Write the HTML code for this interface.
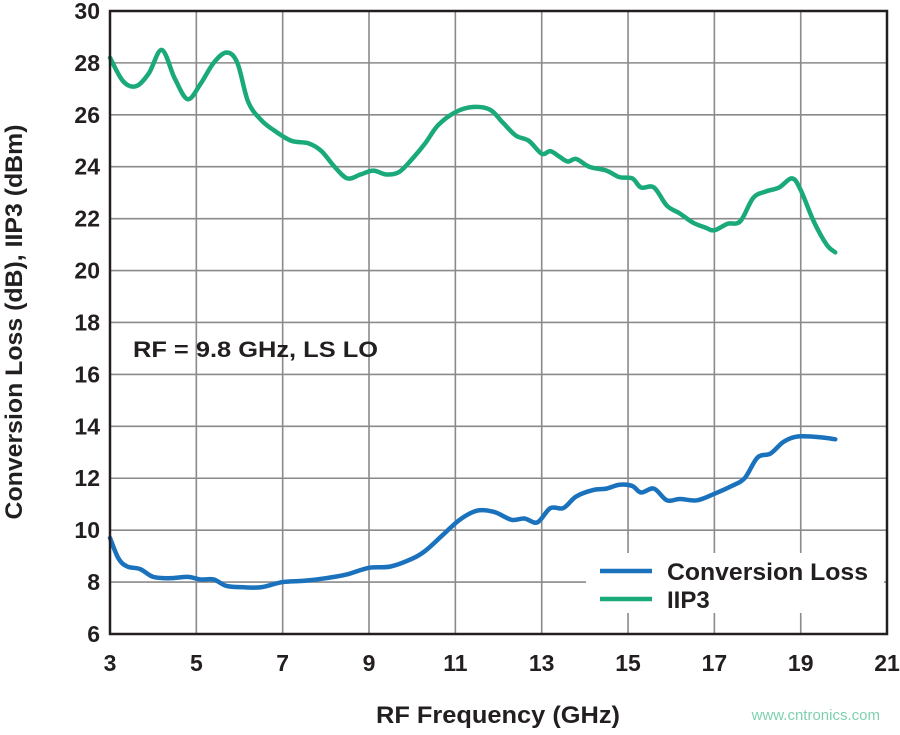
<!DOCTYPE html>
<html><head><meta charset="utf-8"><style>
html,body{margin:0;padding:0;background:#fff;}
svg text{font-family:"Liberation Sans",Arial,sans-serif;font-weight:bold;fill:#231f20;}
</style></head><body>
<svg id="s" width="900" height="730" viewBox="0 0 900 730" xmlns="http://www.w3.org/2000/svg">
<g id="grid" stroke="#8a8a8a" stroke-width="1.6"></g>
<rect x="586" y="553" width="298" height="60" fill="#fff"/>
<path id="g" fill="none" stroke="#1aa97a" stroke-width="4.5" stroke-linejoin="round" stroke-linecap="round"/>
<path id="b" fill="none" stroke="#1a72bd" stroke-width="4.5" stroke-linejoin="round" stroke-linecap="round"/>
<rect x="110" y="11" width="777" height="623" fill="none" stroke="#231f20" stroke-width="2.5"/>
<g id="lab" font-size="23"></g>
<text x="133" y="357" font-size="22" textLength="245" lengthAdjust="spacingAndGlyphs">RF = 9.8 GHz, LS LO</text>
<line x1="600" y1="571" x2="652" y2="571" stroke="#1a72bd" stroke-width="4.5"/>
<line x1="600" y1="599" x2="652" y2="599" stroke="#1aa97a" stroke-width="4.5"/>
<text x="667" y="580" font-size="24" textLength="201" lengthAdjust="spacingAndGlyphs">Conversion Loss</text>
<text x="667" y="608" font-size="24">IIP3</text>
<text x="376" y="723" font-size="24" textLength="244" lengthAdjust="spacingAndGlyphs">RF Frequency (GHz)</text>
<text transform="translate(22,322) rotate(-90)" font-size="24" text-anchor="middle" textLength="395" lengthAdjust="spacingAndGlyphs">Conversion Loss (dB), IIP3 (dBm)</text>
<text x="880" y="720" font-size="15" text-anchor="end" style="font-weight:normal;fill:#7fd0b0">www.cntronics.com</text>
</svg>
<script>
function X(f){return 110+(f-3)*43.17}
function Y(v){return 634-(v-6)*25.96}
var grid=document.getElementById('grid'),lab=document.getElementById('lab'),NS='http://www.w3.org/2000/svg';
function el(p,t,a,txt){var e=document.createElementNS(NS,t);for(var k in a)e.setAttribute(k,a[k]);if(txt)e.textContent=txt;p.appendChild(e);}
for(var f=3;f<=21;f+=2){el(grid,'line',{x1:X(f),x2:X(f),y1:11,y2:634});el(lab,'text',{x:X(f),y:671,'text-anchor':'middle'},String(f));}
for(var v=6;v<=30;v+=2){el(grid,'line',{x1:110,x2:887,y1:Y(v),y2:Y(v)});el(lab,'text',{x:100,y:Y(v)+8,'text-anchor':'end'},String(v));}
var G=[[3,28.2],[3.3,27.3],[3.6,27.1],[3.9,27.6],[4.2,28.5],[4.5,27.4],[4.8,26.6],[5.1,27.2],[5.4,28],[5.7,28.4],[5.95,28],[6.2,26.5],[6.5,25.8],[6.8,25.4],[7.2,25],[7.6,24.9],[7.9,24.6],[8.2,24],[8.5,23.55],[8.8,23.7],[9.1,23.85],[9.4,23.7],[9.7,23.8],[10,24.3],[10.3,24.9],[10.6,25.6],[11,26.1],[11.4,26.3],[11.8,26.2],[12.1,25.7],[12.4,25.2],[12.7,25.0],[13,24.5],[13.2,24.6],[13.4,24.4],[13.6,24.2],[13.8,24.3],[14.1,24.0],[14.5,23.85],[14.8,23.6],[15.1,23.55],[15.3,23.2],[15.6,23.2],[15.9,22.5],[16.2,22.2],[16.5,21.85],[16.8,21.65],[17.0,21.55],[17.3,21.8],[17.6,21.9],[17.9,22.8],[18.2,23.05],[18.5,23.2],[18.8,23.55],[19,23.1],[19.3,21.9],[19.6,21.0],[19.8,20.7]];
var B=[[3,9.7],[3.2,8.9],[3.4,8.6],[3.7,8.5],[4,8.2],[4.4,8.15],[4.8,8.2],[5.1,8.1],[5.4,8.1],[5.7,7.85],[6.1,7.8],[6.5,7.8],[7,8.0],[7.5,8.05],[8,8.15],[8.5,8.3],[9,8.55],[9.5,8.6],[10,8.9],[10.3,9.2],[10.7,9.8],[11.1,10.4],[11.5,10.75],[11.9,10.7],[12.3,10.4],[12.6,10.45],[12.9,10.3],[13.2,10.85],[13.5,10.85],[13.8,11.3],[14.2,11.55],[14.5,11.6],[14.8,11.75],[15.1,11.7],[15.3,11.45],[15.6,11.6],[15.9,11.15],[16.2,11.2],[16.6,11.15],[17,11.4],[17.4,11.7],[17.7,12],[18,12.8],[18.3,12.95],[18.6,13.4],[18.9,13.6],[19.3,13.6],[19.6,13.55],[19.8,13.5]];
function path(d){var p=d.map(function(a){return [X(a[0]),Y(a[1])]});var s='M'+p[0][0]+','+p[0][1];
for(var i=0;i<p.length-1;i++){var p0=p[i-1]||p[i],p1=p[i],p2=p[i+1],p3=p[i+2]||p2;
s+=' C'+(p1[0]+(p2[0]-p0[0])/6)+','+(p1[1]+(p2[1]-p0[1])/6)+' '+(p2[0]-(p3[0]-p1[0])/6)+','+(p2[1]-(p3[1]-p1[1])/6)+' '+p2[0]+','+p2[1];}
return s;}
document.getElementById('g').setAttribute('d',path(G));
document.getElementById('b').setAttribute('d',path(B));
</script>
</body></html>
